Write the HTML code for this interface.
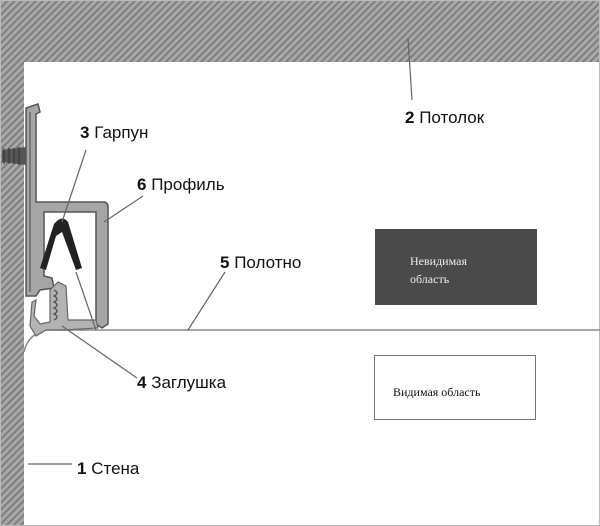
<!DOCTYPE html>
<html><head><meta charset="utf-8"><style>
body{margin:0;background:#fff}
svg{display:block}
text{font-family:"Liberation Sans",sans-serif;font-size:17px;fill:#111}
.b{font-weight:bold}
.s{font-family:"Liberation Serif","DejaVu Serif",serif;font-size:12px}
</style></head><body>
<svg width="600" height="526" viewBox="0 0 600 526">
<defs>
<pattern id="h" width="5" height="5" patternUnits="userSpaceOnUse" patternTransform="rotate(45)">
<rect width="5" height="5" fill="#a8a8a8"/><rect width="2" height="5" fill="#7e7e7e"/>
</pattern>
</defs>
<rect width="600" height="526" fill="#fff"/>
<rect x="0" y="0" width="600" height="62" fill="url(#h)"/>
<rect x="0" y="0" width="24" height="526" fill="url(#h)"/>
<rect x="24" y="62" width="576" height="464" fill="#fff"/>
<rect x="0.5" y="0.5" width="599" height="525" fill="none" stroke="#bbb"/>
<!-- canvas -->
<line x1="60" y1="330" x2="600" y2="330" stroke="#888" stroke-width="1.5"/>
<path d="M24 352 Q28 334 46 330 L70 330" fill="none" stroke="#888" stroke-width="1.5"/>
<!-- screw -->
<path d="M2 150 L34 146 L34 166 L2 162 Z" fill="#555"/>
<path d="M4 148 v16 M9 148 v16 M14 148 v16 M19 147 v18" stroke="#333"/>
<!-- profile -->
<path d="M26 108 L38 104 L40 112 L36 114 L36 202 L104 202 Q108 202 108 208 L108 324 L102 328 L96 324 L96 212 L44 212 L44 276 L52 278 L54 288 L40 290 L36 296 L26 296 Z" fill="#a6a6a6" stroke="#555" stroke-width="1.5"/>
<path d="M30 112 L30 292" stroke="#777" stroke-width="2"/>
<!-- plug -->
<path d="M36 300 L34 316 L40 324 L50 322 L50 290 L58 282 L66 286 L68 320 L96 320 L98 328 L64 330 L46 330 L36 336 L30 326 L32 302 Z" fill="#b3b3b3" stroke="#666" stroke-width="1.2"/>
<path d="M54 290 q6 3 0 6 q6 3 0 6 q6 3 0 6 q6 3 0 6 q6 3 0 6" fill="none" stroke="#555" stroke-width="1.5"/>
<!-- harpoon -->
<path d="M40 268 L54 224 Q62 214 68 222 L82 268 L76 270 L62 232 L56 236 L46 270 Z" fill="#222"/>
<!-- leaders -->
<g stroke="#666" stroke-width="1.2" fill="none">
<line x1="408" y1="38" x2="412" y2="100"/>
<line x1="86" y1="150" x2="62" y2="222"/>
<line x1="76" y1="272" x2="96" y2="330"/>
<line x1="143" y1="196" x2="104" y2="222"/>
<line x1="225" y1="272" x2="188" y2="330"/>
<line x1="137" y1="378" x2="62" y2="326"/>
<line x1="28" y1="464" x2="72" y2="464"/>
</g>
<!-- labels -->
<text x="405" y="123"><tspan class="b">2</tspan> Потолок</text>
<text x="80" y="138"><tspan class="b">3</tspan> Гарпун</text>
<text x="137" y="190"><tspan class="b">6</tspan> Профиль</text>
<text x="220" y="268"><tspan class="b">5</tspan> Полотно</text>
<text x="137" y="388"><tspan class="b">4</tspan> Заглушка</text>
<text x="77" y="474"><tspan class="b">1</tspan> Стена</text>
<!-- boxes -->
<rect x="375" y="229" width="162" height="76" fill="#4a4a4a"/>
<text class="s" x="410" y="265" style="fill:#eee">Невидимая</text>
<text class="s" x="410" y="283" style="fill:#eee">область</text>
<rect x="374.5" y="355.5" width="161" height="64" fill="#fff" stroke="#777"/>
<text class="s" x="393" y="396">Видимая область</text>
</svg>
</body></html>
